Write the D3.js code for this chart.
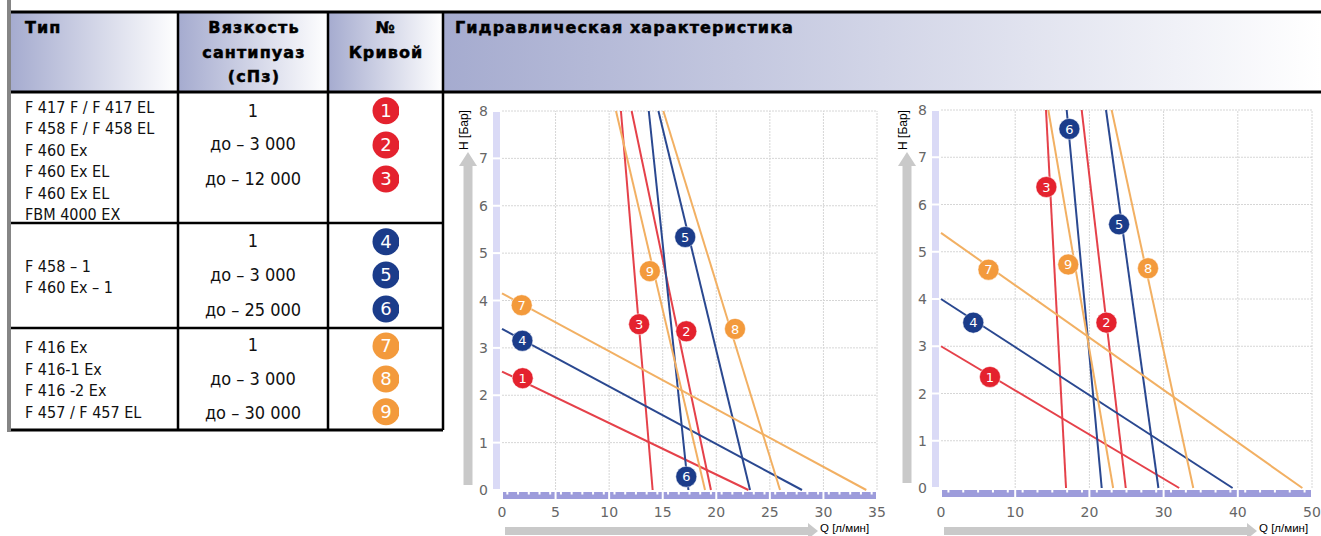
<!DOCTYPE html>
<html>
<head>
    <meta charset="utf-8">
    <script src="https://d3js.org/d3.v7.min.js"></script>
    <style>
        body { margin: 0; background: #fff; }
        .hdr { font-family: "DejaVu Sans", sans-serif; font-weight: bold; font-size: 16px; letter-spacing: 1.1px; fill: #000; stroke: #000; stroke-width: 0.5px; }
        .cell { font-family: "Liberation Sans Narrow", "DejaVu Sans Condensed", sans-serif; fill: #111; }
        .tick { font-family: "DejaVu Sans", sans-serif; font-size: 14px; fill: #666; }
        .atitle { font-family: "Liberation Sans", Arial, sans-serif; font-size: 12px; fill: #000; }
        .badge { font-family: "DejaVu Sans", sans-serif; font-size: 13px; fill: #fff; }
    </style>
</head>
<body>
    <svg id="svg"></svg>
</body>
</html>

<script type="text/javascript">
    // table content
    const headers = [["Тип"], ["Вязкость", "сантипуаз", "(сПз)"], ["№", "Кривой"], ["Гидравлическая характеристика"]];
    const types = [
        ["F 417 F / F 417 EL", "F 458 F / F 458 EL", "F 460 Ex", "F 460 Ex EL", "F 460 Ex EL", "FBM 4000 EX"],
        ["F 458 – 1", "F 460 Ex – 1"],
        ["F 416 Ex", "F 416-1 Ex", "F 416 -2 Ex", "F 457 / F 457 EL"]
    ];
    const viscosities = [
        ["1", "до – 3 000", "до – 12 000"],
        ["1", "до – 3 000", "до – 25 000"],
        ["1", "до – 3 000", "до – 30 000"]
    ];
    const curveIds = [1, 2, 3, 4, 5, 6, 7, 8, 9];

    // left chart: Q [л/мин], H [Бар]
    const leftStart = [[0, 2.5], [12.1, 8], [11.1, 8], [0, 3.4], [14.6, 8], [13.7, 8], [0, 4.15], [15.06, 8], [10.64, 8]];
    const leftEnd = [[23, 0], [19.5, 0], [14.06, 0], [28, 0], [23.15, 0], [17.4, 0], [34, 0], [25.95, 0], [18.95, 0]];
    const leftLabels = [[1.93, 2.36], [17.2, 3.35], [12.8, 3.5], [1.9, 3.15], [17.1, 5.34], [17.2, 0.28], [1.84, 3.9], [21.75, 3.4], [13.8, 4.62]];
    const leftXTicks = [0, 5, 10, 15, 20, 25, 30, 35];

    // right chart
    const rightStart = [[0, 3], [18.96, 8], [14.15, 8], [0, 4], [22.24, 8], [16.94, 8], [0, 5.4], [23, 8], [14.46, 8]];
    const rightEnd = [[32.1, 0], [24.9, 0], [16.85, 0], [39.3, 0], [29.3, 0], [21.66, 0], [48.7, 0], [34, 0], [23.2, 0]];
    const rightLabels = [[6.6, 2.35], [22.3, 3.5], [14.2, 6.37], [4.35, 3.5], [24.0, 5.58], [17.3, 7.6], [6.4, 4.62], [27.9, 4.65], [17.15, 4.73]];
    const rightXTicks = [0, 10, 20, 30, 40, 50];

    const yTicks = [0, 1, 2, 3, 4, 5, 6, 7, 8];

    const badgeColors = ["#e4222e", "#e4222e", "#e4222e", "#1b3c8a", "#1b3c8a", "#1b3c8a", "#f39a3c", "#f39a3c", "#f39a3c"];
    const lineColors = ["#e5414a", "#e5414a", "#e5414a", "#2a4890", "#2a4890", "#2a4890", "#f2b063", "#f2b063", "#f2b063"];

    const width = 1321;
    const height = 536;
    const svg = d3.select("#svg").attr("width", width).attr("height", height);

    const defs = svg.append("defs");
    const grad = defs.append("linearGradient").attr("id", "hgrad");
    grad.append("stop").attr("offset", "0%").attr("stop-color", "#a5abcf");
    grad.append("stop").attr("offset", "100%").attr("stop-color", "#ffffff");
    defs.append("clipPath").attr("id", "badgeClip")
        .append("rect").attr("x", 330).attr("y", 94).attr("width", 69).attr("height", 336);

    // ---------- table ----------
    const colX = [10, 178, 328, 443, 1321];
    const rowY = [12, 92, 223, 328, 430];

    svg.selectAll(".hcell")
        .data(headers)
        .enter()
        .append("rect")
        .attr("x", (d, i) => colX[i])
        .attr("y", rowY[0])
        .attr("width", (d, i) => colX[i + 1] - colX[i])
        .attr("height", rowY[1] - rowY[0])
        .attr("fill", "url(#hgrad)");

    const hdrAnchor = ["start", "middle", "middle", "start"];
    const hdrX = [25, 254, 386, 455];
    headers.forEach((lines, i) => {
        svg.append("text")
            .attr("class", "hdr")
            .attr("text-anchor", hdrAnchor[i])
            .selectAll("tspan")
            .data(lines)
            .enter()
            .append("tspan")
            .attr("x", hdrX[i])
            .attr("y", (d, j) => 33 + j * 24.5)
            .text(d => d);
    });

    // body text
    const typeTop = [112.5, 271.5, 353];
    const typeStep = 21.5;
    types.forEach((lines, r) => {
        lines.forEach((t, j) => {
            svg.append("text").attr("class", "cell")
                .attr("x", 25).attr("y", typeTop[r] + j * typeStep)
                .style("font-size", "16px")
                .text(t);
        });
    });
    const viscY = [[116.5, 150, 185], [246.5, 281, 316], [351, 385, 419]];
    viscosities.forEach((lines, r) => {
        lines.forEach((t, j) => {
            svg.append("text").attr("class", "cell")
                .attr("x", 253).attr("y", viscY[r][j])
                .attr("text-anchor", "middle")
                .style("font-size", "18px")
                .text(t);
        });
    });

    // badges in table
    const tableBadgeY = [110.7, 145, 179, 241.7, 275, 309, 346, 379, 411.7];
    const tb = svg.append("g").attr("clip-path", "url(#badgeClip)")
        .selectAll("g")
        .data(curveIds)
        .enter()
        .append("g")
        .attr("transform", (d, i) => `translate(386, ${tableBadgeY[i]})`);
    tb.append("circle").attr("r", 13.5).attr("fill", (d, i) => badgeColors[i]);
    tb.append("text").attr("class", "badge")
        .attr("text-anchor", "middle").attr("dy", "0.36em")
        .style("font-size", "18px")
        .text(d => d);

    // table lines
    const lines = [
        [8, rowY[0], width, rowY[0], 3],
        [8, rowY[1], width, rowY[1], 3],
        [8, rowY[2], colX[3], rowY[2], 2.5],
        [8, rowY[3], colX[3], rowY[3], 2.5],
        [8, rowY[4], colX[3], rowY[4], 3],
        [colX[1], rowY[0], colX[1], rowY[4], 2.5],
        [colX[2], rowY[0], colX[2], rowY[4], 2.5],
        [colX[3], rowY[0], colX[3], rowY[4], 2.5]
    ];
    svg.selectAll(".tline")
        .data(lines)
        .enter()
        .append("line")
        .attr("x1", d => d[0]).attr("y1", d => d[1])
        .attr("x2", d => d[2]).attr("y2", d => d[3])
        .attr("stroke", "#000")
        .attr("stroke-width", d => d[4]);
    svg.append("rect").attr("x", 7).attr("y", 0).attr("width", 4).attr("height", 432).attr("fill", "#858585");

    // ---------- charts ----------
    function drawChart(cfg) {
        const x = d3.scaleLinear().domain([0, cfg.xMax]).range(cfg.xRange);
        const y = d3.scaleLinear().domain([0, 8]).range(cfg.yRange);
        const g = svg.append("g");

        // grey arrows
        const ax = cfg.xRange[0] - 34;
        g.append("rect").attr("x", ax - 4.5).attr("y", 163).attr("width", 9).attr("height", y(0) - 168).attr("fill", "#c9c9c9");
        g.append("path").attr("d", `M${ax - 9},166 L${ax},152 L${ax + 9},166 Z`).attr("fill", "#c9c9c9");
        const arrowEnd = cfg.xRange[0] + cfg.arrowLen;
        g.append("rect").attr("x", cfg.xRange[0] + 3).attr("y", 527).attr("width", arrowEnd - cfg.xRange[0] - 13).attr("height", 8).attr("fill", "#c9c9c9");
        g.append("path").attr("d", `M${arrowEnd - 10},523 L${arrowEnd},531 L${arrowEnd - 10},539 Z`).attr("fill", "#c9c9c9");

        // grid
        g.selectAll(".hg").data(yTicks.slice(1)).enter().append("line")
            .attr("x1", x(0)).attr("x2", x(cfg.xMax))
            .attr("y1", d => y(d)).attr("y2", d => y(d))
            .attr("stroke", "#d6d6d6").attr("stroke-width", 1).attr("stroke-dasharray", "2,1");
        g.selectAll(".vg").data(cfg.xTicks.slice(1)).enter().append("line")
            .attr("x1", d => x(d)).attr("x2", d => x(d))
            .attr("y1", y(0)).attr("y2", y(8))
            .attr("stroke", "#d6d6d6").attr("stroke-width", 1).attr("stroke-dasharray", "2,1");

        // lavender y band
        g.selectAll(".yb").data(yTicks.slice(0, 8)).enter().append("rect")
            .attr("x", x(0) - 9).attr("width", 7)
            .attr("y", d => y(d + 1) + 1).attr("height", d => y(d) - y(d + 1) - 2)
            .attr("fill", "#dadaf6");
        // purple x band
        const step = cfg.xTicks[1];
        g.selectAll(".xb").data(cfg.xTicks.slice(0, -1)).enter().append("rect")
            .attr("x", d => x(d) + 1).attr("width", d => x(d + step) - x(d) - 2)
            .attr("y", y(0) + 2).attr("height", 7)
            .attr("fill", "#9d9cdb");
        const notches = d3.range(0, cfg.xMax, step / 5).map(v => v + step / 10);
        g.selectAll(".xn").data(notches).enter().append("rect")
            .attr("x", d => x(d) - 1).attr("width", 2)
            .attr("y", y(0) + 2).attr("height", 2.5)
            .attr("fill", "#fff");

        // ticks
        g.selectAll(".yt").data(yTicks).enter().append("text")
            .attr("class", "tick").attr("text-anchor", "end")
            .attr("x", x(0) - 14).attr("y", d => y(d)).attr("dy", "0.36em")
            .text(d => d);
        g.selectAll(".xt").data(cfg.xTicks).enter().append("text")
            .attr("class", "tick").attr("text-anchor", "middle")
            .attr("x", d => x(d)).attr("y", 517)
            .text(d => d);

        // titles
        g.append("text").attr("class", "atitle")
            .attr("transform", `translate(${x(0) - 38}, 130) rotate(-90)`)
            .attr("text-anchor", "middle").attr("dy", "0.35em")
            .text("Н [Бар]");
        g.append("text").attr("class", "atitle")
            .attr("x", arrowEnd + 2).attr("y", 532)
            .style("font-size", "11.5px")
            .text("Q [л/мин]");

        // curves
        g.selectAll(".curve").data(curveIds).enter().append("line")
            .attr("x1", (d, i) => x(cfg.start[i][0])).attr("y1", (d, i) => y(cfg.start[i][1]))
            .attr("x2", (d, i) => x(cfg.end[i][0])).attr("y2", (d, i) => y(cfg.end[i][1]))
            .attr("stroke", (d, i) => lineColors[i])
            .attr("stroke-width", 2);

        // badges
        const b = g.selectAll(".b").data(curveIds).enter().append("g")
            .attr("transform", (d, i) => `translate(${x(cfg.labels[i][0])}, ${y(cfg.labels[i][1])})`);
        b.append("circle").attr("r", 10.5).attr("fill", (d, i) => badgeColors[i])
            .attr("stroke", "#fff").attr("stroke-opacity", 0.5).attr("stroke-width", 1);
        b.append("text").attr("class", "badge")
            .attr("text-anchor", "middle").attr("dy", "0.36em")
            .text(d => d);
    }

    drawChart({ xMax: 35, xRange: [502, 877], yRange: [490, 111], xTicks: leftXTicks,
        start: leftStart, end: leftEnd, labels: leftLabels, arrowLen: 316 });
    drawChart({ xMax: 50, xRange: [941, 1312], yRange: [488, 110], xTicks: rightXTicks,
        start: rightStart, end: rightEnd, labels: rightLabels, arrowLen: 316 });
</script>
